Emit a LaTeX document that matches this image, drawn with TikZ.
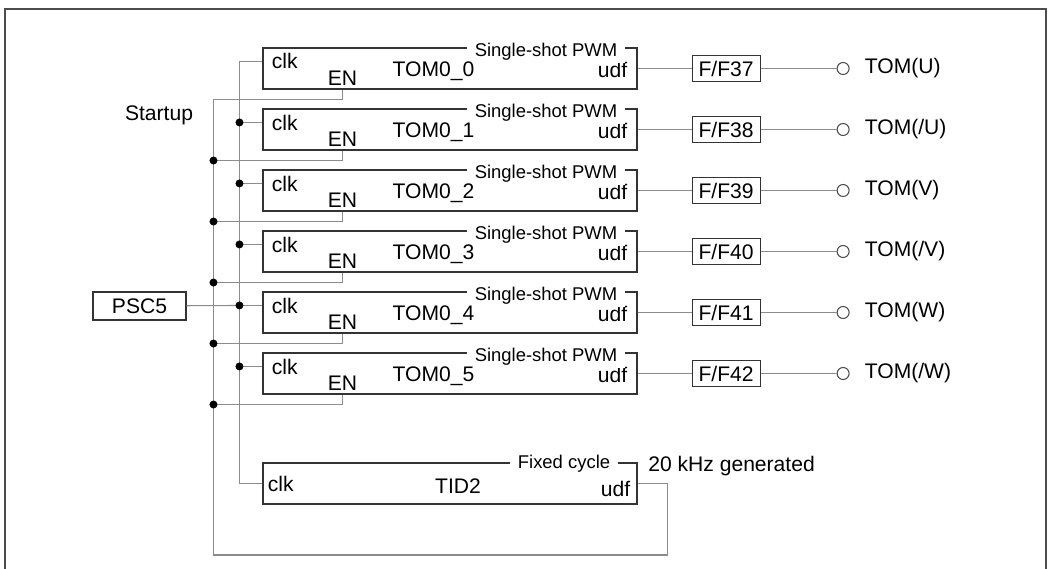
\documentclass[tikz,border=0pt]{standalone}
\usepackage{fontspec}
\setmainfont{Liberation Sans}
\usetikzlibrary{shapes,arrows,positioning,calc}

\begin{document}
\begin{tikzpicture}[node distance=1.22cm, font=\fontsize{12}{14}\selectfont]
\tikzstyle{block} = [rectangle, minimum width=7.48cm, minimum height=0.82cm, inner sep=0, draw=black!80, line width=0.6pt]
\tikzstyle{tag} = [fill=white, inner xsep=0.15cm, inner ysep=0.05cm, font=\fontsize{10.5}{12}\selectfont]
\tikzstyle{tom} = [block,
  label={[anchor=west, inner sep=0, xshift=0.18cm, yshift=-0.28cm]north west:clk},
  label={[anchor=center, inner sep=0, xshift=1.60cm, yshift=0.22cm]south west:EN},
  label={[anchor=east, inner sep=0, xshift=-0.2cm, yshift=-0.02cm]east:udf},
  label={[tag, anchor=center, xshift=-1.83cm, yshift=-0.08cm]north east:Single-shot PWM}]
\tikzstyle{ffbox} = [rectangle, minimum width=1.36cm, minimum height=0.52cm, inner sep=0, draw=black!80, line width=0.6pt]
\tikzstyle{term} = [circle, minimum size=0.24cm, inner sep=0, draw=black!70, line width=0.6pt]
\tikzstyle{wire} = [draw=black!45, line width=0.6pt]
\tikzstyle{frame} = [draw=black!70, line width=0.9pt]

\useasboundingbox (0,0) rectangle (20.98,11.38);
\draw [frame] (0.10,0) -- (0.10,11.20) -- (20.92,11.20) -- (20.92,0);

% timer channels
\node (tom0) [tom, label={[xshift=-0.33cm, yshift=-0.05cm]center:TOM0\_0}] at (9.00,10.01) {};
\node (tom1) [tom, label={[xshift=-0.33cm, yshift=-0.05cm]center:TOM0\_1}, below of=tom0] {};
\node (tom2) [tom, label={[xshift=-0.33cm, yshift=-0.05cm]center:TOM0\_2}, below of=tom1] {};
\node (tom3) [tom, label={[xshift=-0.33cm, yshift=-0.05cm]center:TOM0\_3}, below of=tom2] {};
\node (tom4) [tom, label={[xshift=-0.33cm, yshift=-0.05cm]center:TOM0\_4}, below of=tom3] {};
\node (tom5) [tom, label={[xshift=-0.33cm, yshift=-0.05cm]center:TOM0\_5}, below of=tom4] {};
\node (tid2) [block,
  label={[anchor=west, inner sep=0, xshift=0.1cm]west:clk},
  label={[xshift=0.16cm, yshift=-0.05cm]center:TID2},
  label={[anchor=east, inner sep=0, xshift=-0.14cm, yshift=-0.11cm]east:udf},
  label={[tag, anchor=center, xshift=-1.47cm, yshift=-0.02cm]north east:Fixed cycle}] at (9.00,1.71) {};
\node (khz) [anchor=west, inner sep=0] at (12.96,2.05) {20 kHz generated};
\node (startup) at (3.18,9.08) {Startup};
\node (psc5) [ffbox, minimum width=1.86cm, minimum height=0.56cm] at (2.79,5.26) {PSC5};

% flip-flops and outputs
\node (ff37) [ffbox, right=1.08cm of tom0] {F/F37};
\node (ff38) [ffbox, right=1.08cm of tom1] {F/F38};
\node (ff39) [ffbox, right=1.08cm of tom2] {F/F39};
\node (ff40) [ffbox, right=1.08cm of tom3] {F/F40};
\node (ff41) [ffbox, right=1.08cm of tom4] {F/F41};
\node (ff42) [ffbox, right=1.08cm of tom5] {F/F42};
\node (oU) [term, right=1.52cm of ff37] {};
\node (oUn) [term, right=1.52cm of ff38] {};
\node (oV) [term, right=1.52cm of ff39] {};
\node (oVn) [term, right=1.52cm of ff40] {};
\node (oW) [term, right=1.52cm of ff41] {};
\node (oWn) [term, right=1.52cm of ff42] {};
\node (tU) [right=0.18cm of oU] {TOM(U)};
\node (tUn) [right=0.18cm of oUn] {TOM(/U)};
\node (tV) [right=0.18cm of oV] {TOM(V)};
\node (tVn) [right=0.18cm of oVn] {TOM(/V)};
\node (tW) [right=0.18cm of oW] {TOM(W)};
\node (tWn) [right=0.18cm of oWn] {TOM(/W)};

\draw [wire] (tom0) -- (ff37) -- (oU);
\draw [wire] (tom1) -- (ff38) -- (oUn);
\draw [wire] (tom2) -- (ff39) -- (oV);
\draw [wire] (tom3) -- (ff40) -- (oVn);
\draw [wire] (tom4) -- (ff41) -- (oW);
\draw [wire] (tom5) -- (ff42) -- (oWn);

% clock bus
\draw [wire] ([yshift=-0.28cm]tom0.north west) -- ++(-0.46,0) |- (tid2.west);
\draw [wire] ([yshift=-0.28cm]tom1.north west) -- ++(-0.46,0) coordinate (ck1);
\draw [wire] ([yshift=-0.28cm]tom2.north west) -- ++(-0.46,0) coordinate (ck2);
\draw [wire] ([yshift=-0.28cm]tom3.north west) -- ++(-0.46,0) coordinate (ck3);
\draw [wire] ([yshift=-0.28cm]tom4.north west) -- ++(-0.46,0) coordinate (ck4);
\draw [wire] ([yshift=-0.28cm]tom5.north west) -- ++(-0.46,0) coordinate (ck5);
\draw [wire] (psc5) -- (ck4);

% enable bus
\draw [wire] ([xshift=1.6cm]tom0.south west) |- ++(-2.58,-0.2) coordinate (en0);
\draw [wire] ([xshift=1.6cm]tom1.south west) |- ++(-2.58,-0.2) coordinate (en1);
\draw [wire] ([xshift=1.6cm]tom2.south west) |- ++(-2.58,-0.2) coordinate (en2);
\draw [wire] ([xshift=1.6cm]tom3.south west) |- ++(-2.58,-0.2) coordinate (en3);
\draw [wire] ([xshift=1.6cm]tom4.south west) |- ++(-2.58,-0.2) coordinate (en4);
\draw [wire] ([xshift=1.6cm]tom5.south west) |- ++(-2.58,-0.2) coordinate (en5);
\draw [wire] (tid2.east) -- ++(0.6,0) -- ++(0,-1.43) -| (en0);

\fill (ck1) circle (0.08) (ck2) circle (0.08) (ck3) circle (0.08) (ck4) circle (0.08) (ck5) circle (0.08);
\fill (en1) circle (0.08) (en2) circle (0.08) (en3) circle (0.08) (en4) circle (0.08) (en5) circle (0.08);

\end{tikzpicture}
\end{document}
